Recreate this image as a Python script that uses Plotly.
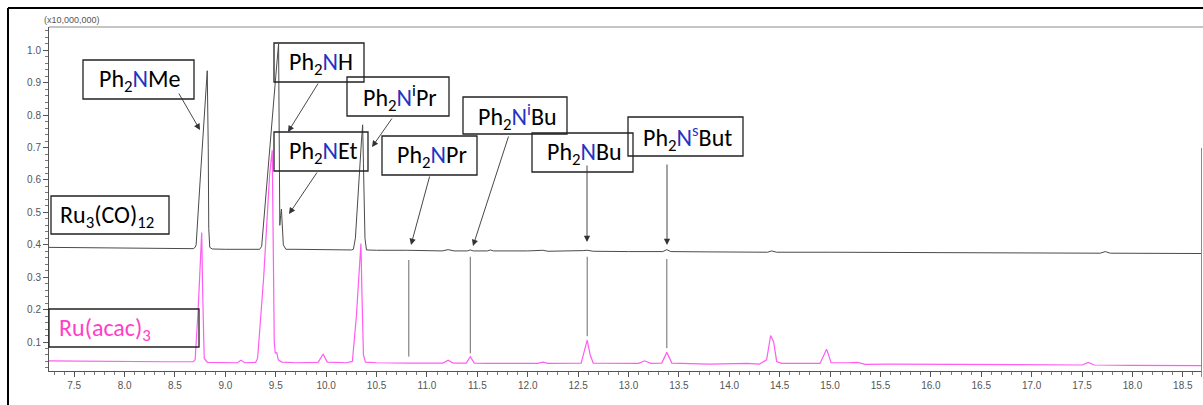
import plotly.graph_objects as go

# ---------------- data ----------------
# Ru3(CO)12 chromatogram (retention time in min, intensity in x10,000,000)
ru3_time = [7.25, 7.60, 8.00, 8.40, 8.68, 8.70, 8.71, 8.75, 8.80, 8.82, 8.83, 8.835, 8.845, 8.87,
            9.00, 9.20, 9.34, 9.36, 9.40, 9.45, 9.50, 9.528, 9.534, 9.540, 9.548, 9.556, 9.575, 9.60,
            9.70, 9.90, 10.10, 10.25, 10.27, 10.29, 10.35, 10.362, 10.37, 10.385, 10.40,
            10.50, 10.80, 11.00, 11.15, 11.21, 11.27, 11.40, 11.43, 11.46, 11.60, 11.63, 11.66,
            12.00, 12.15, 12.20, 12.50, 12.55, 12.59, 12.65, 13.00, 13.34, 13.38, 13.42, 13.80,
            14.38, 14.42, 14.47, 15.00, 16.00, 17.00, 17.68, 17.73, 17.78, 18.69]
ru3_int = [0.392, 0.391, 0.390, 0.389, 0.388, 0.392, 0.400, 0.600, 0.850, 0.937, 0.700, 0.450, 0.392, 0.387,
           0.386, 0.386, 0.386, 0.395, 0.550, 0.750, 0.920, 1.020, 0.800, 0.460, 0.490, 0.510, 0.400, 0.386,
           0.386, 0.385, 0.384, 0.384, 0.386, 0.420, 0.720, 0.770, 0.650, 0.420, 0.384,
           0.383, 0.383, 0.382, 0.381, 0.385, 0.381, 0.381, 0.384, 0.381, 0.381, 0.384, 0.381,
           0.381, 0.383, 0.380, 0.380, 0.382, 0.383, 0.380, 0.379, 0.379, 0.385, 0.379, 0.378,
           0.377, 0.381, 0.377, 0.377, 0.376, 0.375, 0.374, 0.379, 0.374, 0.373]

# Ru(acac)3 chromatogram
acac_time = [7.25, 7.60, 7.75, 8.00, 8.40, 8.68, 8.70, 8.73, 8.765, 8.775, 8.79, 8.82,
             9.00, 9.12, 9.155, 9.19, 9.30, 9.32, 9.38, 9.44, 9.465, 9.475, 9.485, 9.495, 9.51, 9.525, 9.56,
             9.70, 9.92, 9.97, 10.01, 10.20, 10.26, 10.30, 10.345, 10.355, 10.37, 10.39,
             10.50, 10.82, 11.16, 11.21, 11.26, 11.39, 11.43, 11.47, 11.60, 12.10, 12.15, 12.20,
             12.53, 12.56, 12.59, 12.62, 12.65, 13.10, 13.16, 13.22, 13.33, 13.38, 13.43,
             13.80, 13.95, 14.18, 14.30, 14.37, 14.41, 14.44, 14.47, 14.52, 14.78, 14.90, 14.965, 15.01,
             15.18, 15.27, 15.35, 15.58, 16.26, 17.00, 17.50, 17.56, 17.62, 18.00, 18.69]
acac_int = [0.042, 0.041, 0.039, 0.040, 0.039, 0.039, 0.045, 0.200, 0.438, 0.250, 0.050, 0.037,
            0.036, 0.036, 0.044, 0.036, 0.037, 0.050, 0.300, 0.620, 0.692, 0.400, 0.100, 0.066, 0.067, 0.045, 0.038,
            0.036, 0.037, 0.063, 0.038, 0.036, 0.040, 0.180, 0.404, 0.250, 0.060, 0.038,
            0.036, 0.035, 0.035, 0.044, 0.035, 0.035, 0.055, 0.035, 0.034, 0.034, 0.038, 0.034,
            0.035, 0.070, 0.106, 0.060, 0.035, 0.034, 0.042, 0.034, 0.035, 0.068, 0.035,
            0.032, 0.033, 0.034, 0.032, 0.045, 0.120, 0.100, 0.040, 0.034, 0.034, 0.034, 0.078, 0.036,
            0.036, 0.037, 0.031, 0.032, 0.031, 0.029, 0.029, 0.037, 0.029, 0.028, 0.027]

# vertical guide lines between the two traces
marker_time = [10.82, 11.43, 12.59, 13.38]
marker_top = [0.353, 0.363, 0.363, 0.356]
marker_bottom = [0.055, 0.065, 0.118, 0.081]

x_ticks = [7.5, 8.0, 8.5, 9.0, 9.5, 10.0, 10.5, 11.0, 11.5, 12.0, 12.5, 13.0, 13.5, 14.0,
           14.5, 15.0, 15.5, 16.0, 16.5, 17.0, 17.5, 18.0, 18.5]
y_ticks = [0.1, 0.2, 0.3, 0.4, 0.5, 0.6, 0.7, 0.8, 0.9, 1.0]

# ---------------- layout geometry ----------------
W, H = 1203, 405
L, R, T, B = 49, 1202, 27, 371
XR = [7.25, 18.69]
YR = [0.0105, 1.072]


def px(xp):
    return (xp - L) / (R - L)


def py(yp):
    return (B - yp) / (B - T)


BLUE = "#1f35c4"
PINK = "#ff40c8"
LINE_PINK = "#ff5cf2"
ANN_FONT = "Carlito, Lato, sans-serif"
TICK_FONT = "Liberation Sans Narrow, Arial Narrow, Liberation Sans, sans-serif"


def nb(s):
    return "<span style='color:%s'>%s</span>" % (BLUE, s)


labels = [
    ("Ph<sub>2</sub>" + nb("N") + "Me", (83, 194, 60, 99), 1, "black"),
    ("Ph<sub>2</sub>" + nb("N") + "H", (274, 364, 43, 82), 2, "black"),
    ("Ph<sub>2</sub>" + nb("N") + "<sup>i</sup>Pr", (347, 449, 77, 116), 2, "black"),
    ("Ph<sub>2</sub>" + nb("N") + "Et", (274, 368, 132, 171), 2, "black"),
    ("Ph<sub>2</sub>" + nb("N") + "Pr", (382, 477, 136, 175), 2, "black"),
    ("Ph<sub>2</sub>" + nb("N<sup>i</sup>") + "Bu", (463, 567, 97, 134), 2, "black"),
    ("Ph<sub>2</sub>" + nb("N") + "Bu", (532, 633, 133, 172), 2, "black"),
    ("Ph<sub>2</sub>" + nb("N<sup>s</sup>") + "But", (628, 743, 117, 156), 2, "black"),
    ("Ru<sub>3</sub>(CO)<sub>12</sub>", (51, 169, 196, 234), -3, "black"),
    ("Ru(acac)<sub>3</sub>", (49, 199, 309, 347), -19, PINK),
]

arrows = [
    ((178, 92), (200, 130)),
    ((319, 82), (288, 132)),
    ((393, 117), (372, 147)),
    ((318, 171), (289, 214)),
    ((430, 175), (411, 245)),
    ((509, 135), (473, 246)),
    ((587, 164), (587, 242)),
    ((667, 163), (667, 245)),
]

fig = go.Figure()

fig.add_trace(go.Scatter(x=ru3_time, y=ru3_int, mode="lines",
                         line=dict(color="#4a4a4a", width=1), hoverinfo="skip", showlegend=False))
fig.add_trace(go.Scatter(x=acac_time, y=acac_int, mode="lines",
                         line=dict(color=LINE_PINK, width=1.2), hoverinfo="skip", showlegend=False))

mx, my = [], []
for t, a, b in zip(marker_time, marker_top, marker_bottom):
    mx += [t, t, None]
    my += [a, b, None]
fig.add_trace(go.Scatter(x=mx, y=my, mode="lines", line=dict(color="#6a6a6a", width=1),
                         hoverinfo="skip", showlegend=False))

shapes = []
annotations = []
for text, (x0, x1, y0, y1), dx, col in labels:
    shapes.append(dict(type="rect", xref="paper", yref="paper", x0=px(x0), x1=px(x1), y0=py(y1), y1=py(y0),
                       line=dict(color="#222", width=1.3), fillcolor="rgba(0,0,0,0)", layer="above"))
    annotations.append(dict(text=text, xref="paper", yref="paper", x=px((x0 + x1) / 2 + dx),
                            y=py((y0 + y1) / 2 + 1), xanchor="center", yanchor="middle", showarrow=False,
                            font=dict(family=ANN_FONT, size=24, color=col)))

for (tx, ty), (hx, hy) in arrows:
    annotations.append(dict(text="", xref="paper", yref="paper", x=px(hx), y=py(hy),
                            ax=tx - hx, ay=ty - hy, showarrow=True, arrowhead=2, arrowsize=1.4,
                            arrowwidth=0.9, arrowcolor="#333", standoff=0, startstandoff=0))

annotations.append(dict(text="(x10,000,000)", xref="paper", yref="paper", x=px(42), y=py(20),
                        xanchor="left", yanchor="middle", showarrow=False,
                        font=dict(family=TICK_FONT, size=9, color="#555")))

# frame lines
shapes += [
    dict(type="line", xref="paper", yref="paper", x0=px(8), x1=px(1210), y0=py(8), y1=py(8),
         line=dict(color="black", width=2)),
    dict(type="line", xref="paper", yref="paper", x0=px(8), x1=px(8), y0=py(8), y1=py(420),
         line=dict(color="black", width=2)),
    dict(type="line", xref="paper", yref="paper", x0=0, x1=px(1210), y0=1, y1=1,
         line=dict(color="#8a8a8a", width=1)),
    dict(type="line", xref="paper", yref="paper", x0=px(1201.5), x1=px(1201.5), y0=py(148), y1=py(377),
         line=dict(color="#8a8a8a", width=1)),
]

fig.update_layout(
    width=W, height=H,
    margin=dict(l=L, r=W - R, t=T, b=H - B, pad=0),
    paper_bgcolor="white", plot_bgcolor="white",
    shapes=shapes, annotations=annotations,
    showlegend=False,
)

fig.update_xaxes(range=XR, tickvals=x_ticks, ticktext=["%.1f" % v for v in x_ticks],
                 showgrid=False, zeroline=False, showline=True, linecolor="#555", linewidth=1,
                 ticks="outside", ticklen=5, tickcolor="#555", tickwidth=1,
                 minor=dict(dtick=0.1, tick0=7.5, ticks="outside", ticklen=3, tickcolor="#777"),
                 tickfont=dict(family=TICK_FONT, size=10, color="#555"))
fig.update_yaxes(range=YR, tickvals=y_ticks, ticktext=["%.1f" % v for v in y_ticks],
                 showgrid=False, zeroline=False, showline=True, linecolor="#555", linewidth=1,
                 ticks="outside", ticklen=5, tickcolor="#555", tickwidth=1,
                 minor=dict(dtick=0.02, tick0=0.0, ticks="outside", ticklen=3, tickcolor="#777"),
                 tickfont=dict(family=TICK_FONT, size=10, color="#555"))

fig.write_html("out.html", config={"displayModeBar": False},
               post_script="document.body.style.margin='0';")
